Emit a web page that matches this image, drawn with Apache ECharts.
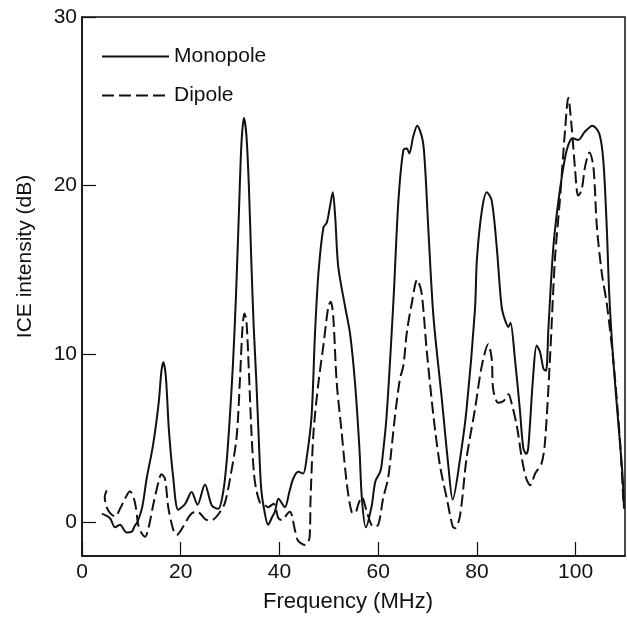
<!DOCTYPE html>
<html><head><meta charset="utf-8">
<script src="https://cdn.jsdelivr.net/npm/echarts@6/dist/echarts.min.js"></script>
<style>html,body{margin:0;padding:0;background:#fff}#c{width:627px;height:618px}</style>
</head><body><div id="c"></div>
<script>
const seriesNames = ['Monopole', 'Dipole'];
const xTicks = [0, 20, 40, 60, 80, 100];
const yTicks = [0, 10, 20, 30];

const monopole = [
  [4.0,0.5],[4.7,0.43],[5.7,0.24],[6.7,-0.3],[7.7,-0.15],[9.0,-0.6],[10.1,-0.55],[10.7,-0.2],
  [11.2,0.0],[12.2,0.9],[13.1,2.6],[14.4,4.6],[15.5,7.0],[16.1,9.0],[16.5,9.5],[17.0,8.6],
  [17.6,5.5],[18.5,2.6],[19.5,0.75],[20.9,1.1],[22.2,1.8],[23.4,1.05],[24.9,2.25],[26.3,1.0],
  [27.6,0.8],[28.6,1.8],[29.3,3.6],[30.0,6.5],[30.6,9.5],[31.2,13.5],[31.8,18.5],[32.3,22.5],
  [32.8,24.0],[33.3,23.0],[33.8,20.0],[34.3,15.5],[34.8,11.5],[35.3,8.5],[35.8,5.0],[36.3,2.0],
  [37.0,0.6],[37.7,-0.15],[38.5,0.3],[39.1,0.65],[39.8,1.4],[41.1,0.9],[42.0,1.8],[42.8,2.6],
  [43.8,3.0],[44.8,2.9],[45.5,3.8],[46.5,6.3],[47.2,11.2],[47.9,14.8],[48.9,17.5],[49.6,17.8],
  [50.2,18.7],[50.8,19.6],[51.3,18.1],[51.9,15.2],[53.3,12.8],[54.3,11.2],[55.3,8.3],[56.2,4.4],
  [56.7,1.4],[57.5,-0.3],[58.7,1.0],[59.4,2.4],[60.4,3.0],[60.7,3.4],[61.7,6.3],[63.1,13.2],
  [64.1,19.1],[65.1,22.1],[65.8,22.2],[66.3,21.9],[67.1,22.9],[67.9,23.55],[69.0,22.7],[69.5,21.1],
  [70.2,17.2],[71.2,12.2],[72.9,7.3],[74.2,3.4],[75.1,1.35],[76.6,3.8],[77.9,6.7],[79.6,12.6],
  [80.0,15.6],[81.0,18.5],[82.0,19.6],[83.0,19.1],[84.0,16.4],[85.0,12.8],[85.7,12.0],[86.4,11.6],
  [86.8,11.85],[87.7,9.7],[88.7,6.7],[89.4,4.4],[90.0,4.05],[90.4,4.4],[91.4,8.7],[92.1,10.5],
  [92.8,10.1],[93.5,9.1],[94.0,9.0],[94.5,11.6],[95.5,16.4],[96.8,19.7],[98.2,22.1],[99.4,22.8],
  [100.5,22.7],[101.9,23.2],[103.4,23.55],[104.8,23.06],[105.6,21.5],[106.3,17.55],[106.8,13.6],
  [107.6,9.7],[108.7,5.7],[109.5,2.8],[109.8,0.8]
];

const dipole = [
  [5.0,1.9],[4.6,1.5],[5.0,0.9],[5.7,0.55],[6.7,0.35],[7.7,0.8],[8.7,1.4],[9.7,1.85],[10.7,1.2],
  [11.4,-0.15],[12.0,-0.6],[12.8,-0.85],[13.5,-0.3],[14.4,1.0],[15.5,2.4],[16.1,2.85],[16.8,2.6],
  [17.5,0.85],[18.5,-0.45],[19.2,-0.75],[20.5,-0.25],[21.9,0.43],[23.0,0.63],[23.9,0.53],[25.3,0.14],
  [26.3,0.14],[28.0,0.63],[29.0,1.2],[30.0,2.6],[31.3,5.0],[32.0,8.5],[32.5,11.5],[32.9,12.4],
  [33.3,12.0],[33.8,9.0],[34.3,5.5],[34.8,3.0],[35.2,2.1],[36.0,1.2],[36.7,1.1],[37.7,0.9],
  [38.8,1.1],[39.8,0.24],[40.45,0.14],[42.1,0.63],[42.5,0.43],[43.2,-0.55],[43.8,-1.1],[45.2,-1.35],
  [46.1,-0.9],[46.3,1.4],[46.9,5.35],[47.9,8.3],[48.9,10.5],[49.9,12.8],[50.4,13.1],[50.9,12.2],
  [51.6,8.3],[52.6,5.35],[53.6,2.4],[54.6,0.63],[55.3,0.53],[56.0,1.1],[56.7,1.5],[57.7,0.63],
  [59.0,-0.25],[60.0,-0.16],[61.0,1.42],[62.0,2.6],[62.7,4.37],[63.4,6.3],[64.4,8.5],[65.1,9.3],
  [65.8,11.26],[66.8,13.0],[67.9,14.4],[68.8,13.6],[69.8,10.3],[71.2,6.3],[72.5,3.4],[73.9,1.42],
  [75.1,-0.25],[75.6,-0.35],[76.6,0.43],[77.9,3.8],[79.6,6.7],[81.0,9.3],[82.3,10.57],[83.0,9.7],
  [83.3,7.9],[84.3,7.1],[85.4,7.2],[86.4,7.6],[87.0,7.1],[88.1,5.7],[89.1,3.8],[90.0,2.6],
  [90.8,2.2],[91.8,2.9],[93.1,3.5],[93.8,4.8],[94.8,9.7],[95.8,15.6],[96.8,19.1],[97.9,23.45],
  [98.5,25.2],[99.2,23.45],[99.9,20.9],[100.5,19.4],[101.2,19.7],[101.9,21.1],[102.8,21.95],
  [103.6,21.1],[104.3,17.55],[105.3,14.8],[106.3,13.0],[107.6,9.7],[109.0,4.8],[109.7,1.0]
];

const ink = '#111';
const font = '"Liberation Sans", Arial, Helvetica, sans-serif';
const chart = echarts.init(document.getElementById('c'), null, { renderer: 'canvas' });
chart.setOption({
  animation: false,
  backgroundColor: '#fff',
  grid: { left: 82, right: 2, top: 17, bottom: 60, show: true, borderColor: ink, borderWidth: 1.5, backgroundColor: 'transparent' },
  legend: {
    data: seriesNames, orient: 'vertical', left: 101, top: 46, padding: 0,
    itemWidth: 67, itemHeight: 14, itemGap: 18,
    itemStyle: { opacity: 0 },
    textStyle: { fontSize: 21, color: ink, fontFamily: font },
    selectedMode: false
  },
  xAxis: {
    type: 'value', min: 0, max: 110,
    name: 'Frequency (MHz)', nameLocation: 'middle', nameGap: 35,
    nameTextStyle: { fontSize: 22, color: ink, fontFamily: font, padding: [0, 11, 0, 0] },
    axisLine: { show: true, onZero: false, lineStyle: { color: ink, width: 1.5 } },
    axisTick: { show: true, inside: true, length: 14, customValues: xTicks, lineStyle: { color: ink, width: 1.2 } },
    axisLabel: { customValues: xTicks, margin: 6, fontSize: 21, color: ink, fontFamily: font },
    splitLine: { show: false }
  },
  yAxis: {
    type: 'value', min: -2, max: 30,
    name: 'ICE intensity (dB)', nameLocation: 'middle', nameGap: 46,
    nameTextStyle: { fontSize: 21, color: ink, fontFamily: font, padding: [0, 0, 0, 60] },
    axisLine: { show: true, onZero: false, lineStyle: { color: ink, width: 1.5 } },
    axisTick: { show: true, inside: true, length: 14, customValues: yTicks, lineStyle: { color: ink, width: 1.2 } },
    axisLabel: { customValues: yTicks, margin: 5, fontSize: 21, color: ink, fontFamily: font },
    splitLine: { show: false }
  },
  series: [
    { type: 'line', name: seriesNames[0], data: monopole, symbol: 'none', smooth: 0.3,
      lineStyle: { color: ink, width: 2, type: 'solid' }, itemStyle: { color: ink } },
    { type: 'line', name: seriesNames[1], data: dipole, symbol: 'none', smooth: 0.3,
      lineStyle: { color: ink, width: 2, type: [12, 5] }, itemStyle: { color: ink } }
  ]
});
</script></body></html>
